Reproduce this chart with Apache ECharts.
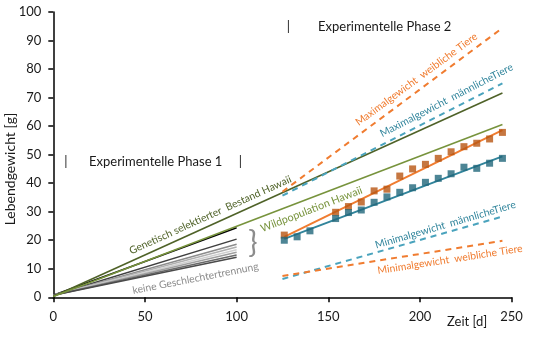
<!DOCTYPE html>
<html>
<head>
<meta charset="utf-8">
<script src="https://cdn.jsdelivr.net/npm/echarts@6/dist/echarts.min.js"></script>
<style>
html,body{margin:0;padding:0;background:#fff;}
#chart{width:540px;height:341px;}
</style>
</head>
<body>
<div id="chart"></div>
<script>
// ---- Data ----
const xTicks = [0, 50, 100, 150, 200, 250];
const yTicks = [0, 10, 20, 30, 40, 50, 60, 70, 80, 90, 100];

// Phase 1: no sex separation (lines from day 0 to day 100)
const phase1Days = [0, 100];
const phase1Start = 0.7;
const phase1Ends = [24.4, 20.4, 18.6, 17.6, 16.7, 15.8, 14.8, 14.0];
const phase1Colors = ['#000000', '#3f3f3f', '#8c8c8c', '#b0b0b0', '#d0d0d0', '#a0a0a0', '#6a6a6a', '#4a4a4a'];

// Reference growth lines
const refDays = [0, 245];
const selectedHawaii = [0.3, 71.6];
const wildHawaii = [0.3, 60.6];

// Phase 2 envelope (dashed)
const envDays = [125, 245];
const maxFemale = [37.0, 94.4];
const maxMale = [35.6, 75.0];
const minMale = [6.4, 28.3];
const minFemale = [7.5, 19.8];

// Phase 2 measurements
const days = [126, 133, 140, 154, 161, 168, 175, 182, 189, 196, 203, 210, 217, 224, 231, 238, 245];
const femaleWeights = [21.8, null, null, 29.8, 31.8, 33.4, 37.3, 37.9, 42.5, 45.0, 46.6, 48.7, 51.0, 52.8, 54.0, 55.5, 57.8];
const maleWeights = [20.0, 21.2, 23.3, 27.6, 29.7, 30.6, 33.3, 35.2, 36.8, 38.4, 40.3, 41.7, 43.3, 45.6, 45.2, 47.0, 48.7];

// Phase 2 trend lines
const trendDays = [126, 245];
const femaleTrend = [21.2, 58.6];
const maleTrend = [20.5, 49.4];

// ---- Helpers ----
function pairs(xs, ys) { return xs.map((x, i) => [x, ys[i]]); }
function lineSeries(data, color, width, dashed, z) {
  return {
    type: 'line', data: data, showSymbol: false, symbol: 'none', silent: true,
    lineStyle: { color: color, width: width, type: dashed ? [6, 5] : 'solid' },
    z: z || 2, animation: false
  };
}

const series = [];
phase1Ends.forEach((e, i) => {
  series.push(lineSeries(pairs(phase1Days, [phase1Start, e]), phase1Colors[i], 1.5, false, 2));
});
series.push(lineSeries(pairs(refDays, selectedHawaii), '#4f6228', 1.6, false, 3));
series.push(lineSeries(pairs(refDays, wildHawaii), '#77933c', 1.6, false, 3));
series.push(lineSeries(pairs(envDays, maxFemale), '#f07c30', 2, true, 3));
series.push(lineSeries(pairs(envDays, maxMale), '#4aa3bd', 2, true, 3));
series.push(lineSeries(pairs(envDays, minMale), '#4aa3bd', 2, true, 3));
series.push(lineSeries(pairs(envDays, minFemale), '#f07c30', 2, true, 3));
series.push(lineSeries(pairs(trendDays, femaleTrend), '#f07c30', 2, false, 4));
series.push(lineSeries(pairs(trendDays, maleTrend), '#31849b', 2, false, 4));
series.push({
  type: 'scatter', symbol: 'rect', symbolSize: 7, animation: false, z: 5,
  data: pairs(days, femaleWeights).filter(p => p[1] !== null),
  itemStyle: { color: '#b85512' }
});
series.push({
  type: 'scatter', symbol: 'rect', symbolSize: 7, animation: false, z: 6,
  data: pairs(days, maleWeights),
  itemStyle: { color: '#21677a' }
});

const FONT = 'Lato, "Open Sans", sans-serif';
function label(text, x, y, deg, color, size) {
  return {
    type: 'text', x: x, y: y, rotation: deg * Math.PI / 180, z: 100,
    style: { text: text, fill: color, font: (size || 10) + 'px ' + FONT, textAlign: 'center', textVerticalAlign: 'middle' }
  };
}
function plain(text, x, y, color, size, align) {
  return {
    type: 'text', x: x, y: y, z: 100,
    style: { text: text, fill: color, font: (size || 13) + 'px ' + FONT, textAlign: align || 'left', textVerticalAlign: 'middle' }
  };
}

const chart = echarts.init(document.getElementById('chart'), null, { renderer: 'canvas' });
chart.setOption({
  animation: false,
  grid: { left: 53.3, right: 28.4, top: 12, bottom: 43.7, containLabel: false, outerBoundsMode: 'none' },
  xAxis: {
    type: 'value', min: xTicks[0], max: xTicks[xTicks.length - 1], interval: 50,
    axisLine: { show: true, lineStyle: { color: '#000', width: 1.5 } },
    axisTick: { show: true, inside: false, length: 5, lineStyle: { color: '#000', width: 1.5 } },
    axisLabel: { color: '#1a1a1a', fontSize: 13, fontFamily: FONT, margin: 13 },
    splitLine: { show: false }
  },
  yAxis: {
    type: 'value', min: yTicks[0], max: yTicks[yTicks.length - 1], interval: 10,
    axisLine: { show: true, lineStyle: { color: '#000', width: 1.5 } },
    axisTick: { show: true, inside: false, length: 5, lineStyle: { color: '#000', width: 1.5 } },
    axisLabel: { color: '#1a1a1a', fontSize: 13, fontFamily: FONT, margin: 12 },
    splitLine: { show: false }
  },
  series: series,
  graphic: [
    { type: 'text', x: 10, y: 169, rotation: Math.PI / 2, z: 100,
      style: { text: 'Lebendgewicht [g]', fill: '#1a1a1a', font: '14px ' + FONT, textAlign: 'center', textVerticalAlign: 'middle' } },
    plain('Zeit [d]', 447, 322, '#1a1a1a', 13),
    plain('|', 66, 162, '#1a1a1a', 13, 'center'),
    plain('Experimentelle Phase 1', 89, 162, '#1a1a1a', 13),
    plain('|', 240.5, 162, '#1a1a1a', 13, 'center'),
    plain('|', 288.5, 27, '#1a1a1a', 13, 'center'),
    plain('Experimentelle Phase 2', 318, 27, '#1a1a1a', 13),
    { type: 'text', x: 253, y: 243, z: 100,
      style: { text: '}', fill: '#8c8c8c', font: '31px ' + FONT, textAlign: 'center', textVerticalAlign: 'middle' } },
    label('Genetisch selektierter  Bestand Hawaii', 210.3, 215, 24.3, '#4f6228', 10.4),
    label('Wildpopulation Hawaii', 311.5, 209.3, 21.2, '#77933c', 10.8),
    label('keine Geschlechtertrennung', 195.5, 278.5, 11, '#8c8c8c', 10.4),
    label('Maximalgewicht  weibliche Tiere', 416.5, 79.3, 36.4, '#f07c30', 10.4),
    label('Maximalgewicht  männlicheTiere', 446.5, 100.3, 27.3, '#31859c', 10.4),
    label('Minimalgewicht  männlicheTiere', 445.5, 224.8, 16.3, '#31859c', 10.4),
    label('Minimalgewicht  weibliche Tiere', 450, 259.5, 8.8, '#f07c30', 10.4)
  ]
});
</script>
</body>
</html>
